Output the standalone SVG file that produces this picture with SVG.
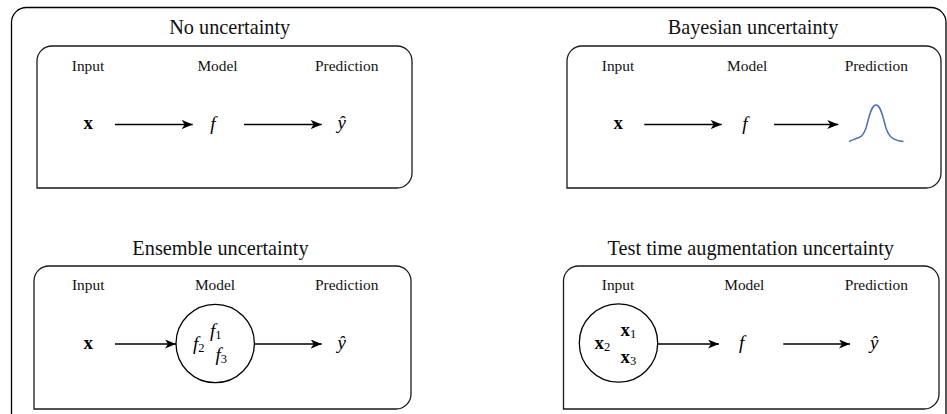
<svg xmlns="http://www.w3.org/2000/svg" width="947" height="414" viewBox="0 0 947 414">
<style>
.frame{fill:none;stroke:#000;stroke-width:1.3}
.panel{fill:#fff;stroke:#1a1a1a;stroke-width:1.3}
.title{font-family:"Liberation Serif",serif;font-size:20.3px;fill:#111;text-anchor:middle}
.lbl{font-family:"Liberation Serif",serif;font-size:15.4px;fill:#111;text-anchor:middle}
.mb{font-family:"Liberation Serif",serif;font-size:19px;font-weight:bold;fill:#000;text-anchor:middle}
.mi{font-family:"Liberation Serif",serif;font-size:19px;font-style:italic;fill:#000;text-anchor:middle}
.sub{font-size:12.5px;font-style:normal;font-weight:normal}
.edge{fill:none;stroke:#000;stroke-width:1.3}
.circ{fill:#fff;stroke:#000;stroke-width:1.3}
</style>
<defs>
<marker id="ah" markerUnits="userSpaceOnUse" markerWidth="12" markerHeight="10" refX="11" refY="4.5" orient="auto">
<path d="M0,0 L11,4.5 L0,9 L3,4.5 Z" fill="#000"/>
</marker>
</defs>
<path class="frame" d="M11.5,430 L11.5,22.5 A15,15 0 0 1 26.5,7.5 L931,7.5 A15,15 0 0 1 946,22.5 L946,430"/>

<g id="no-uncertainty">
<text class="title" x="229.7" y="34">No uncertainty</text>
<path class="panel" d="M37,188 L37,61 A15,15 0 0 1 52,46 L397,46 A15,15 0 0 1 412,61 L412,173 A15,15 0 0 1 397,188 Z"/>
<text class="lbl" x="88" y="70.5">Input</text>
<text class="lbl" x="217.5" y="70.5">Model</text>
<text class="lbl" x="346.7" y="70.5">Prediction</text>
<text class="mb" x="88.3" y="129">x</text>
<text class="mi" x="213" y="129.5">f</text>
<text class="mi" x="341.7" y="128.5">ŷ</text>
</g>

<g id="bayesian-uncertainty">
<text class="title" x="753" y="34">Bayesian uncertainty</text>
<path class="panel" d="M567,188 L567,61 A15,15 0 0 1 582,46 L926,46 A15,15 0 0 1 941,61 L941,173 A15,15 0 0 1 926,188 Z"/>
<text class="lbl" x="618" y="70.5">Input</text>
<text class="lbl" x="747.2" y="70.5">Model</text>
<text class="lbl" x="876.3" y="70.5">Prediction</text>
<text class="mb" x="618.3" y="129">x</text>
<text class="mi" x="745" y="129.5">f</text>
<path d="M849,141.5 C852,140.5 855,138.5 859,137.5 C862,136.5 864,134 866,128 C869,118 871,105 876,105 C881,105 883,118 886,128 C889,137 893,140.5 903.5,141.5" fill="none" stroke="#4a72b8" stroke-width="1.5"/>
</g>

<g id="ensemble-uncertainty">
<text class="title" x="220.5" y="255">Ensemble uncertainty</text>
<path class="panel" d="M34,409 L34,281 A15,15 0 0 1 49,266 L396,266 A15,15 0 0 1 411,281 L411,394 A15,15 0 0 1 396,409 Z"/>
<text class="lbl" x="88.2" y="290">Input</text>
<text class="lbl" x="215" y="290">Model</text>
<text class="lbl" x="346.7" y="290">Prediction</text>
<text class="mb" x="88.3" y="348.5">x</text>
<circle class="circ" cx="215.2" cy="343.5" r="39.2"/>
<text class="mi" x="210" y="337" style="text-anchor:start">f<tspan class="sub" dy="2">1</tspan></text>
<text class="mi" x="193" y="349.5" style="text-anchor:start">f<tspan class="sub" dy="2">2</tspan></text>
<text class="mi" x="215.5" y="360.5" style="text-anchor:start">f<tspan class="sub" dy="2">3</tspan></text>
<text class="mi" x="341.7" y="348.5">ŷ</text>
</g>

<g id="tta-uncertainty">
<text class="title" x="750.8" y="255">Test time augmentation uncertainty</text>
<path class="panel" d="M563.5,409 L563.5,281 A15,15 0 0 1 578.5,266 L924,266 A15,15 0 0 1 939,281 L939,394 A15,15 0 0 1 924,409 Z"/>
<text class="lbl" x="618" y="290">Input</text>
<text class="lbl" x="744.3" y="290">Model</text>
<text class="lbl" x="876.3" y="290">Prediction</text>
<circle class="circ" cx="618.5" cy="343" r="39.2"/>
<text class="mb" x="620.5" y="335.5" style="text-anchor:start">x<tspan class="sub" dy="2">1</tspan></text>
<text class="mb" x="594.5" y="349" style="text-anchor:start">x<tspan class="sub" dy="2">2</tspan></text>
<text class="mb" x="620.5" y="363" style="text-anchor:start">x<tspan class="sub" dy="2">3</tspan></text>
<text class="mi" x="741.7" y="349">f</text>
<text class="mi" x="874.3" y="348.5">ŷ</text>
</g>

<g id="connectors">
<line class="edge" x1="115" y1="124.5" x2="192.7" y2="124.5" marker-end="url(#ah)"/>
<line class="edge" x1="244" y1="124.5" x2="321.7" y2="124.5" marker-end="url(#ah)"/>
<line class="edge" x1="644.3" y1="124.5" x2="721.7" y2="124.5" marker-end="url(#ah)"/>
<line class="edge" x1="774" y1="124.5" x2="838.3" y2="124.5" marker-end="url(#ah)"/>
<line class="edge" x1="115" y1="344" x2="176" y2="344" marker-end="url(#ah)"/>
<line class="edge" x1="254.4" y1="344" x2="321.7" y2="344" marker-end="url(#ah)"/>
<line class="edge" x1="657.7" y1="344" x2="719" y2="344" marker-end="url(#ah)"/>
<line class="edge" x1="783.3" y1="344" x2="850" y2="344" marker-end="url(#ah)"/>
</g>
</svg>
